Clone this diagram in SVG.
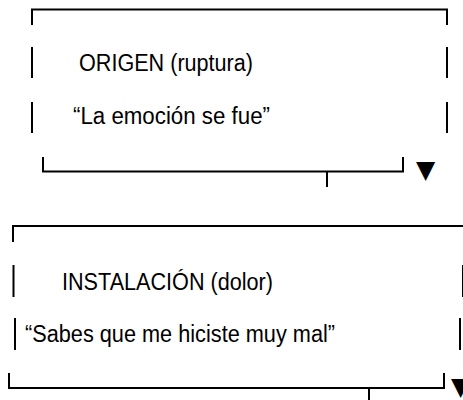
<svg xmlns="http://www.w3.org/2000/svg" width="463" height="400" viewBox="0 0 463 400">
  <style>
    .ln { fill: none; stroke: #000; stroke-width: 2; }
    .t { font-family: "Liberation Sans", Arial, sans-serif; font-size: 23px; fill: #000; }
    .arr { font-family: "DejaVu Sans", sans-serif; font-size: 25px; fill: #000; }
  </style>
  <rect width="463" height="400" fill="#fff"/>
  <g id="origen">
    <path class="ln" d="M32,25 V9.5 H447 V25"/>
    <path class="ln" d="M32,47 V78 M447,47 V78 M32,102 V133 M447,102 V133"/>
    <text class="t" x="79" y="71" textLength="174" lengthAdjust="spacingAndGlyphs">ORIGEN (ruptura)</text>
    <text class="t" x="73" y="124" textLength="197" lengthAdjust="spacingAndGlyphs">“La emoción se fue”</text>
    <path class="ln" d="M43,157 V171.5 H403 V157"/>
  </g>
  <g id="instalacion">
    <path class="ln" d="M13,242 V226 H463"/>
    <path class="ln" d="M13.5,265 V297 M463,265 V297 M15,318 V350 M460,318 V350"/>
    <text class="t" x="62" y="290" textLength="211" lengthAdjust="spacingAndGlyphs">INSTALACIÓN (dolor)</text>
    <text class="t" x="25" y="342" textLength="310" lengthAdjust="spacingAndGlyphs">“Sabes que me hiciste muy mal”</text>
    <path class="ln" d="M9,373 V388 H444 V373"/>
  </g>
  <g id="connectors">
    <path class="ln" d="M327,172 V187"/>
    <text class="arr" x="416" y="178">▼</text>
    <path class="ln" d="M369,388 V400"/>
    <text class="arr" x="451" y="395">▼</text>
  </g>
</svg>
